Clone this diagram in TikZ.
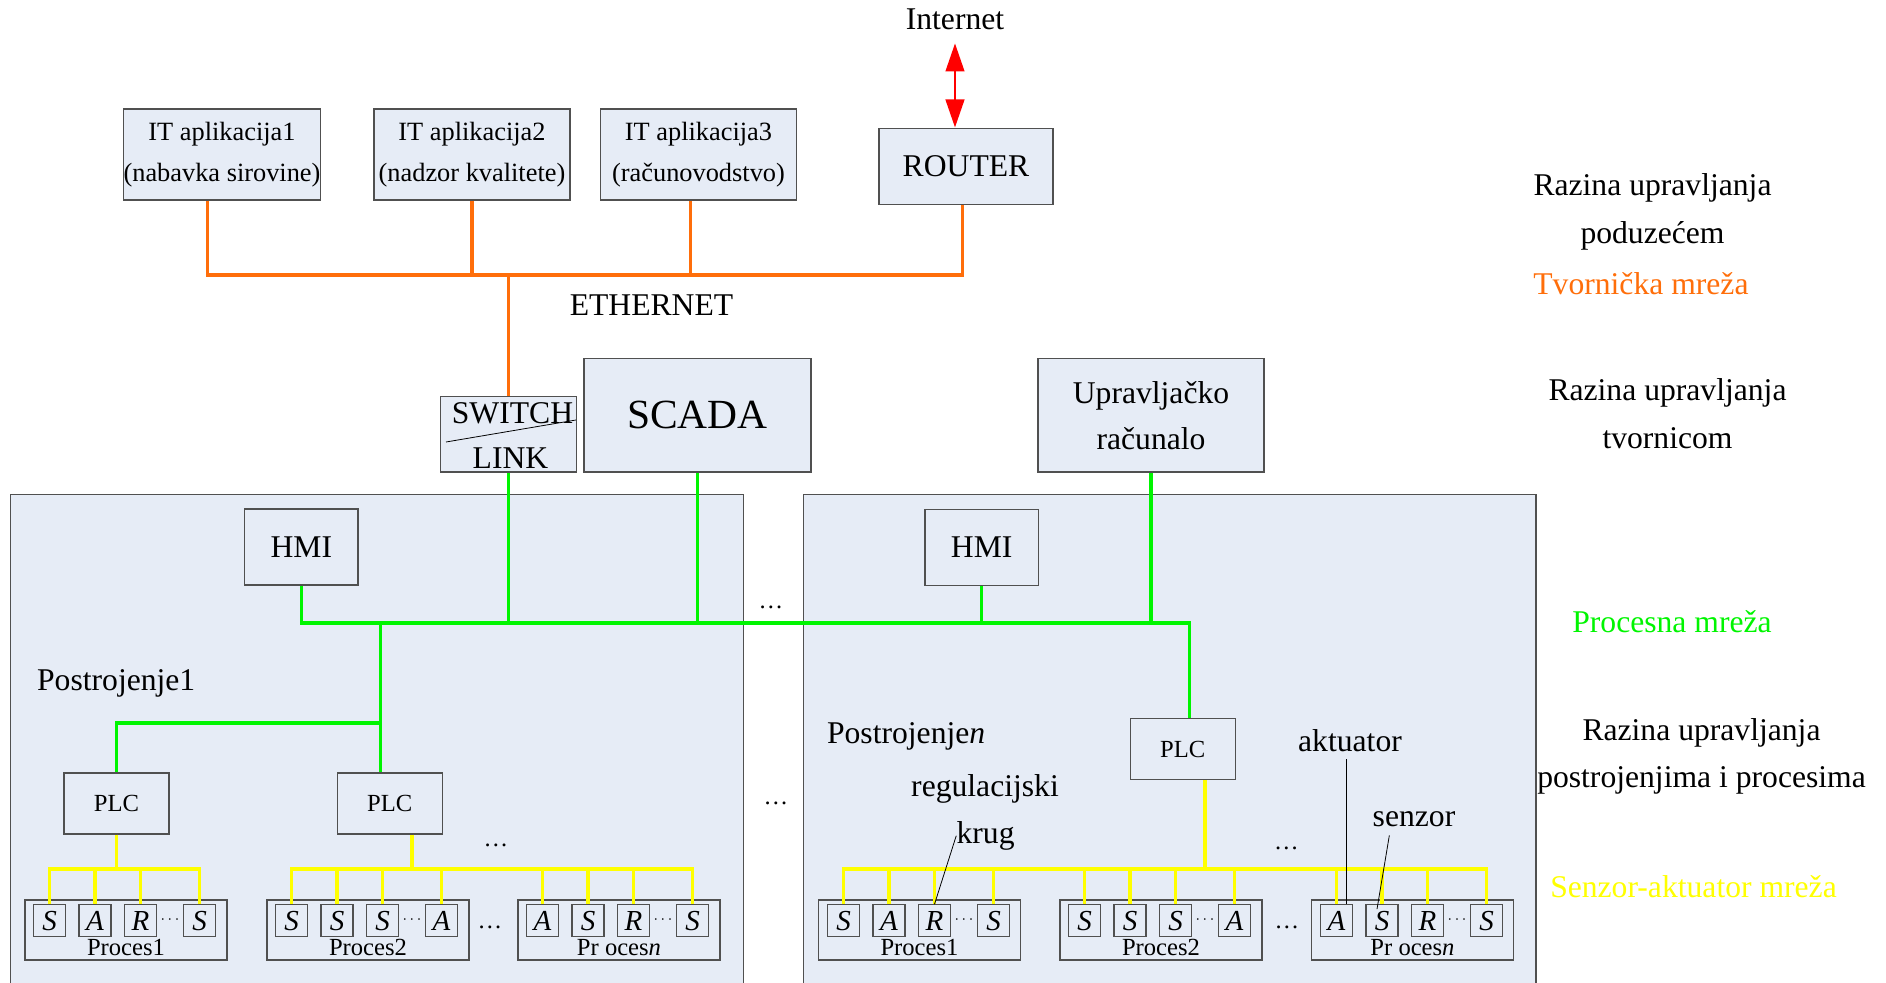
\documentclass[tikz,border=0pt]{standalone}
\usepackage{fontspec}
\setmainfont{Liberation Serif}
\usetikzlibrary{arrows.meta}
\definecolor{boxfill}{RGB}{230,236,246}
\definecolor{boxline}{RGB}{80,80,80}
\definecolor{ethcol}{RGB}{255,110,10}
\definecolor{proccol}{RGB}{0,245,0}
\definecolor{senscol}{RGB}{255,255,0}
\begin{document}
\begin{tikzpicture}[scale=0.2]
\tikzstyle{every node}+=[inner sep=0pt]
\tikzstyle{nodebox}=[draw=boxline, fill=boxfill, line width=0.7pt, align=center]
\tikzstyle{appbox}=[nodebox, minimum width=3.92cm, minimum height=1.82cm, font=\fontsize{15}{23.3}\selectfont]
\tikzstyle{bigbox}=[nodebox, font=\fontsize{18}{26.2}\selectfont]
\tikzstyle{plcbox}=[nodebox, minimum width=2.1cm, minimum height=1.22cm, font=\fontsize{14}{16}\selectfont]
\tikzstyle{procbox}=[nodebox, minimum width=4.04cm, minimum height=1.2cm]
\tikzstyle{sig}=[nodebox, minimum width=0.64cm, minimum height=0.64cm, font=\fontsize{16.5}{18}\selectfont\itshape]
\tikzstyle{lbl}=[font=\fontsize{18}{27}\selectfont, align=center]
\tikzstyle{smalltxt}=[font=\fontsize{14}{16}\selectfont]
\tikzstyle{dotstxt}=[font=\fontsize{14}{16}\selectfont]
\tikzstyle{tinydots}=[font=\fontsize{9}{9}\selectfont]
\tikzstyle{ethnet}=[draw=ethcol, line width=1.9pt]
\tikzstyle{procnet}=[draw=proccol, line width=1.9pt]
\tikzstyle{sensnet}=[draw=senscol, line width=2pt]
\tikzstyle{pointer}=[draw=black, line width=0.45pt]
\tikzstyle{netarrow}=[draw=red, line width=1.7pt, {Triangle[length=16pt,width=10.5pt]}-{Triangle[length=16pt,width=10.5pt]}]
\useasboundingbox (0,0) rectangle (188.6,-98.3);
\fill [boxfill] (1.07,-49.47) rectangle (74.33,-98.3);
\draw [boxline, line width=0.7pt] (1.07,-98.3) -- (1.07,-49.47) -- (74.33,-49.47) -- (74.33,-98.3);
\fill [boxfill] (80.35,-49.47) rectangle (153.6,-98.3);
\draw [boxline, line width=0.7pt] (80.35,-98.3) -- (80.35,-49.47) -- (153.6,-49.47) -- (153.6,-98.3);
\node [lbl, anchor=base] (internet) at (95.5,-2.93) {Internet};
\node [appbox] (app1) at (22.2,-15.45) {IT aplikacija1\\(nabavka sirovine)};
\node [appbox] (app2) at (47.2,-15.45) {IT aplikacija2\\(nadzor kvalitete)};
\node [appbox] (app3) at (69.85,-15.45) {IT aplikacija3\\(računovodstvo)};
\node [bigbox, minimum width=3.48cm, minimum height=1.52cm] (router) at (96.6,-16.62) {ROUTER};
\node [lbl] (ethernet) at (65.15,-30.55) {ETHERNET};
\node [nodebox, minimum width=2.72cm, minimum height=1.51cm] (switch) at (50.87,-43.43) {};
\node [lbl] (swtxt) at (51.25,-41.3) {SWITCH};
\node [lbl] (linktxt) at (51.05,-45.8) {LINK};
\draw [pointer] (44.6,-44.2) -- (57.6,-42.0);
\node [nodebox, minimum width=4.54cm, minimum height=2.27cm, font=\fontsize{23.6}{26}\selectfont] (scada) at (69.75,-41.53) {SCADA};
\node [bigbox, minimum width=4.52cm, minimum height=2.27cm] (pc) at (115.1,-41.53) {Upravljačko\\računalo};
\node [bigbox, minimum width=2.27cm, minimum height=1.52cm] (hmi1) at (30.13,-54.7) {HMI};
\node [bigbox, minimum width=2.27cm, minimum height=1.52cm] (hmi2) at (98.17,-54.73) {HMI};
\node [plcbox] (plc1) at (11.65,-80.35) {PLC};
\node [plcbox] (plc2) at (38.97,-80.35) {PLC};
\node [plcbox] (plcR) at (118.27,-74.9) {PLC};
\node [procbox] (procL1) at (12.6,-93.0) {};
\node [procbox] (procL2) at (36.8,-93.0) {};
\node [procbox] (procLn) at (61.9,-93.0) {};
\node [procbox] (procR1) at (91.95,-93.0) {};
\node [procbox] (procR2) at (116.1,-93.0) {};
\node [procbox] (procRn) at (141.25,-93.0) {};
\node [smalltxt] (txtL1) at (12.6,-94.75) {Proces1};
\node [smalltxt] (txtL2) at (36.8,-94.75) {Proces2};
\node [smalltxt] (txtLn) at (61.9,-94.75) {Pr oces\textit{n}};
\node [smalltxt] (txtR1) at (91.95,-94.75) {Proces1};
\node [smalltxt] (txtR2) at (116.1,-94.75) {Proces2};
\node [smalltxt] (txtRn) at (141.25,-94.75) {Pr oces\textit{n}};
\node [sig] (l1-1) at (4.95,-92.08) {S};
\node [sig] (l1-2) at (9.5,-92.08) {A};
\node [sig] (l1-3) at (14.05,-92.08) {R};
\node [sig] (l1-4) at (19.95,-92.08) {S};
\node [sig] (l2-1) at (29.15,-92.08) {S};
\node [sig] (l2-2) at (33.7,-92.08) {S};
\node [sig] (l2-3) at (38.25,-92.08) {S};
\node [sig] (l2-4) at (44.15,-92.08) {A};
\node [sig] (ln-1) at (54.25,-92.08) {A};
\node [sig] (ln-2) at (58.8,-92.08) {S};
\node [sig] (ln-3) at (63.35,-92.08) {R};
\node [sig] (ln-4) at (69.25,-92.08) {S};
\node [sig] (r1-1) at (84.35,-92.08) {S};
\node [sig] (r1-2) at (88.9,-92.08) {A};
\node [sig] (r1-3) at (93.45,-92.08) {R};
\node [sig] (r1-4) at (99.35,-92.08) {S};
\node [sig] (r2-1) at (108.45,-92.08) {S};
\node [sig] (r2-2) at (113.0,-92.08) {S};
\node [sig] (r2-3) at (117.55,-92.08) {S};
\node [sig] (r2-4) at (123.45,-92.08) {A};
\node [sig] (rn-1) at (133.65,-92.08) {A};
\node [sig] (rn-2) at (138.2,-92.08) {S};
\node [sig] (rn-3) at (142.75,-92.08) {R};
\node [sig] (rn-4) at (148.65,-92.08) {S};
\node [tinydots] (dl1) at (17.0,-92.0) {$\cdots$};
\node [tinydots] (dl2) at (41.2,-92.0) {$\cdots$};
\node [tinydots] (dln) at (66.3,-92.0) {$\cdots$};
\node [tinydots] (dr1) at (96.4,-92.0) {$\cdots$};
\node [tinydots] (dr2) at (120.5,-92.0) {$\cdots$};
\node [tinydots] (drn) at (145.7,-92.0) {$\cdots$};
\node [dotstxt] (dotsA) at (77.1,-60.7) {…};
\node [dotstxt] (dotsB) at (77.6,-80.35) {…};
\node [dotstxt] (dotsL1) at (49.6,-84.57) {…};
\node [dotstxt] (dotsL2) at (49.0,-92.7) {…};
\node [dotstxt] (dotsR1) at (128.65,-84.8) {…};
\node [dotstxt] (dotsR2) at (128.7,-92.7) {…};
\node [lbl, anchor=base west] (plant1) at (3.68,-69.0) {Postrojenje1};
\node [lbl, anchor=base west] (plantn) at (82.67,-74.33) {Postrojenje\textit{n}};
\node [lbl, anchor=base] (regkrug) at (98.5,-79.67) {regulacijski};
\node [lbl, anchor=base] (krug) at (98.56,-84.33) {krug};
\node [lbl, anchor=base] (aktuator) at (135.0,-75.17) {aktuator};
\node [lbl, anchor=base] (senzor) at (141.4,-82.67) {senzor};
\node [lbl] (lvl1) at (165.25,-21.2) {Razina upravljanja\\poduzećem};
\node [lbl, anchor=west, text=ethcol] (tvornet) at (153.3,-28.4) {Tvornička mreža};
\node [lbl] (lvl2) at (166.75,-41.35) {Razina upravljanja\\tvornicom};
\node [lbl, text=proccol] (procnetlbl) at (167.2,-62.2) {Procesna mreža};
\node [lbl] (lvl3) at (170.15,-75.65) {Razina upravljanja\\postrojenjima i procesima};
\node [lbl, text=senscol] (sensnetlbl) at (169.35,-88.7) {Senzor-aktuator mreža};
\draw [netarrow] ([yshift=-38pt]internet.south) -- (internet.south |- router.north);
\coordinate (ethbus) at (0,-27.5);
\coordinate (app1out) at ([xshift=-1.45cm]app1.south);
\coordinate (app3out) at ([xshift=-0.8cm]app3.south);
\coordinate (routerin) at ([xshift=-0.35cm]router.south);
\draw [ethnet] (app1out) |- (routerin |- ethbus) -- (routerin);
\draw [ethnet] (app2.south) -- (app2.south |- ethbus);
\draw [ethnet] (app3out) -- (app3out |- ethbus);
\draw [ethnet] (switch.north) -- (switch.north |- ethbus);
\coordinate (pbus) at (0,-62.3);
\coordinate (pbranch) at (0,-72.3);
\coordinate (plcRin) at ([xshift=0.65cm]plcR.north);
\coordinate (plc2in) at ([xshift=-0.95cm]plc2.north);
\draw [procnet] (hmi1.south) |- (plcRin |- pbus) -- (plcRin);
\draw [procnet] (switch.south) -- (switch.south |- pbus);
\draw [procnet] (scada.south) -- (scada.south |- pbus);
\draw [procnet] (hmi2.south) -- (hmi2.south |- pbus);
\draw [procnet] (pc.south) -- (pc.south |- pbus);
\draw [procnet] (plc2in |- pbus) -- (plc2in);
\draw [procnet] (plc1.north) |- (plc2in |- pbranch);
\coordinate (sbus) at (0,-86.9);
\coordinate (plc2out) at ([xshift=2.25cm]plc2.south);
\coordinate (plcRout) at ([xshift=2.25cm]plcR.south);
\draw [sensnet] (plc1.south) -- (plc1.south |- sbus);
\draw [sensnet] (l1-1.north) |- (l1-4.north |- sbus) -- (l1-4.north);
\draw [sensnet] (l1-2.north) -- (l1-2.north |- sbus) (l1-3.north) -- (l1-3.north |- sbus);
\draw [sensnet] (plc2out) -- (plc2out |- sbus);
\draw [sensnet] (l2-1.north) |- (ln-4.north |- sbus) -- (ln-4.north);
\draw [sensnet] (l2-2.north) -- (l2-2.north |- sbus) (l2-3.north) -- (l2-3.north |- sbus) (l2-4.north) -- (l2-4.north |- sbus);
\draw [sensnet] (ln-1.north) -- (ln-1.north |- sbus) (ln-2.north) -- (ln-2.north |- sbus) (ln-3.north) -- (ln-3.north |- sbus);
\draw [sensnet] (plcRout) -- (plcRout |- sbus);
\draw [sensnet] (r1-1.north) |- (rn-4.north |- sbus) -- (rn-4.north);
\draw [sensnet] (r1-2.north) -- (r1-2.north |- sbus) (r1-3.north) -- (r1-3.north |- sbus) (r1-4.north) -- (r1-4.north |- sbus);
\draw [sensnet] (r2-1.north) -- (r2-1.north |- sbus) (r2-2.north) -- (r2-2.north |- sbus) (r2-3.north) -- (r2-3.north |- sbus) (r2-4.north) -- (r2-4.north |- sbus);
\draw [sensnet] (rn-1.north) -- (rn-1.north |- sbus) (rn-2.north) -- (rn-2.north |- sbus) (rn-3.north) -- (rn-3.north |- sbus);
\coordinate (aktin) at ([xshift=-0.4cm,yshift=-0.7cm]aktuator.south);
\draw [pointer] (krug.west) -- (r1-3.north);
\draw [pointer] (aktin) -- (aktin |- rn-1.north);
\draw [pointer] ([xshift=1.7cm,yshift=-0.8cm]senzor.south west) -- ([xshift=-0.5cm,yshift=-0.5cm]rn-2.north);
\end{tikzpicture}
\end{document}
